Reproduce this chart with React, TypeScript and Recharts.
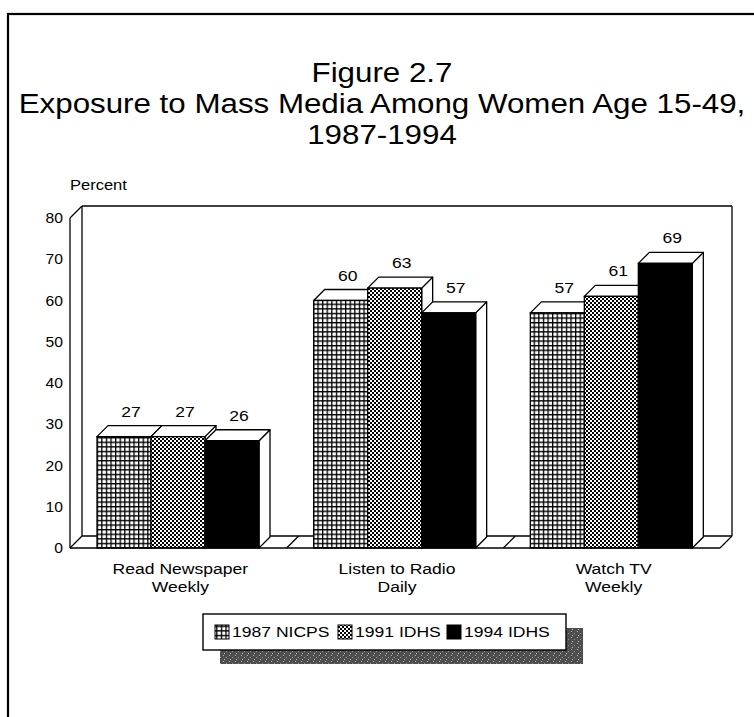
import React from 'react';
import { BarChart, Bar, XAxis, YAxis, Legend, LabelList } from 'recharts';

const categories = ['Read Newspaper Weekly', 'Listen to Radio Daily', 'Watch TV Weekly'];
const categoryLines: Record<string, string[]> = {
  'Read Newspaper Weekly': ['Read Newspaper', 'Weekly'],
  'Listen to Radio Daily': ['Listen to Radio', 'Daily'],
  'Watch TV Weekly': ['Watch TV', 'Weekly'],
};
const nicps1987 = [27, 60, 57];
const idhs1991 = [27, 63, 61];
const idhs1994 = [26, 57, 69];
const seriesNames = ['1987 NICPS', '1991 IDHS', '1994 IDHS'];
const seriesKeys = ['s1987', 's1991', 's1994'];
const seriesFills = ['url(#pGrid)', 'url(#pCheck)', '#000'];
const yTicks = [0, 10, 20, 30, 40, 50, 60, 70, 80];
const titleLines = ['Figure 2.7', 'Exposure to Mass Media Among Women Age 15-49,', '1987-1994'];
const yLabel = 'Percent';

const data = categories.map((c, i) => ({
  name: c,
  s1987: nicps1987[i],
  s1991: idhs1991[i],
  s1994: idhs1994[i],
}));

const W = 754;
const H = 717;
const MARGIN = { top: 218, right: 34, left: 30, bottom: 129 };
const YAXIS_W = 40;
const XAXIS_H = 40;
const PL = MARGIN.left + YAXIS_W;
const PR = W - MARGIN.right;
const PT = MARGIN.top;
const PB = H - MARGIN.bottom - XAXIS_H;
const DX = 12;
const DY = 12;
const BD = 11;
const FONT = '"Liberation Sans", Arial, Helvetica, sans-serif';
const SX = 1.17;

const SText = ({ x, y, size, anchor = 'middle', sx = SX, children }: any) => (
  <text
    transform={`translate(${x},${y}) scale(${sx},1)`}
    textAnchor={anchor}
    fontFamily={FONT}
    fontSize={size}
    fill="#000"
  >
    {children}
  </text>
);

const Bar3D = (props: any) => {
  const { x, y, width: w, height: h, fill } = props;
  if (w == null || h == null) return null;
  const side = `${x + w},${y} ${x + w + BD},${y - BD} ${x + w + BD},${y + h - BD} ${x + w},${y + h}`;
  const top = `${x},${y} ${x + BD},${y - BD} ${x + w + BD},${y - BD} ${x + w},${y}`;
  return (
    <g>
      <polygon points={side} fill="#fff" stroke="#000" strokeWidth={1.3} strokeLinejoin="round" />
      <polygon points={top} fill="#fff" stroke="#000" strokeWidth={1.3} strokeLinejoin="round" />
      <rect x={x} y={y} width={w} height={h} fill={fill} stroke="#000" strokeWidth={1.3} />
    </g>
  );
};

const ValueLabel = (props: any) => {
  const vb = props.viewBox || {};
  const x = props.x ?? vb.x;
  const y = props.y ?? vb.y;
  const w = props.width ?? vb.width;
  if (x == null || y == null) return null;
  return (
    <SText x={x + w / 2 + 7} y={y - 20} size={15}>
      {props.value}
    </SText>
  );
};

const YTick = (props: any) => {
  const { x, y, payload } = props;
  return (
    <SText x={x} y={y + 5} size={14} anchor="end" sx={1.12}>
      {payload.value}
    </SText>
  );
};

const XTick = (props: any) => {
  const { x, y, payload } = props;
  const lines = categoryLines[payload.value] || [payload.value];
  return (
    <g>
      {lines.map((l, i) => (
        <SText key={i} x={x + 2} y={y + 24 + i * 18} size={15}>
          {l}
        </SText>
      ))}
    </g>
  );
};

const LegendContent = () => {
  const bx = 203;
  const by = 614;
  const bw = 363;
  const bh = 36;
  const items = [
    { sw: 215, tx: 232 },
    { sw: 338, tx: 355 },
    { sw: 447, tx: 464 },
  ];
  return (
    <svg width={W} height={H} style={{ position: 'absolute', left: 0, top: 0 }}>
      <rect x={bx + 17} y={by + 14} width={bw} height={bh} fill="url(#pShadow)" />
      <rect x={bx} y={by} width={bw} height={bh} fill="#fff" stroke="#000" strokeWidth={1.4} />
      {seriesNames.map((n, i) => (
        <g key={n}>
          <rect x={items[i].sw} y={625} width={14} height={14} fill={seriesFills[i]} stroke="#000" strokeWidth={1} />
          <SText x={items[i].tx} y={637} size={15} anchor="start">
            {n}
          </SText>
        </g>
      ))}
    </svg>
  );
};

const Background = () => {
  const n = categories.length;
  const band = (PR - PL) / n;
  const dividers = [];
  for (let i = 1; i < n; i++) dividers.push(PL + band * i);
  return (
    <svg width={W} height={H} style={{ position: 'absolute', left: 0, top: 0 }}>
      <defs>
        <pattern id="pGrid" width="4.6" height="4.6" patternUnits="userSpaceOnUse">
          <rect width="4.6" height="4.6" fill="#fff" />
          <path d="M0,0.65 H4.6 M0.65,0 V4.6" stroke="#000" strokeWidth="1.3" />
        </pattern>
        <pattern id="pCheck" width="4" height="4" patternUnits="userSpaceOnUse">
          <rect width="4" height="4" fill="#fff" />
          <rect x="0" y="0" width="2" height="2" fill="#000" />
          <rect x="2" y="2" width="2" height="2" fill="#000" />
        </pattern>
        <pattern id="pShadow" width="6" height="6" patternUnits="userSpaceOnUse">
          <rect width="6" height="6" fill="#4e4e4e" />
          <rect x="1" y="1" width="1" height="1" fill="#b0b0b0" />
          <rect x="4" y="3" width="1" height="1" fill="#9a9a9a" />
          <rect x="2" y="5" width="1" height="1" fill="#c0c0c0" />
        </pattern>
      </defs>
      <rect x={8} y={14} width={800} height={800} fill="none" stroke="#000" strokeWidth={2.2} />
      {titleLines.map((t, i) => (
        <SText key={i} x={382} y={82 + i * 31} size={27} sx={1.16}>
          {t}
        </SText>
      ))}
      <SText x={70} y={190} size={14} anchor="start" sx={1.18}>
        {yLabel}
      </SText>
      <g fill="none" stroke="#000" strokeWidth={1.3}>
        <line x1={PL} y1={PT} x2={PL + DX} y2={PT - DY} />
        <line x1={PL + DX} y1={PT - DY} x2={PR + DX} y2={PT - DY} />
        <line x1={PL + DX} y1={PT - DY} x2={PL + DX} y2={PB - DY} />
        <line x1={PR + DX} y1={PT - DY} x2={PR + DX} y2={PB - DY} />
        <line x1={PL + DX} y1={PB - DY} x2={PR + DX} y2={PB - DY} />
        <line x1={PL} y1={PB} x2={PL + DX} y2={PB - DY} />
        <line x1={PR} y1={PB} x2={PR + DX} y2={PB - DY} />
        {dividers.map((d, i) => (
          <line key={i} x1={d} y1={PB} x2={d + DX} y2={PB - DY} />
        ))}
      </g>
    </svg>
  );
};

export default function App() {
  return (
    <div style={{ position: 'absolute', left: 0, top: 0, width: W, height: H, background: '#fff' }}>
      <Background />
      <div style={{ position: 'absolute', left: 0, top: 0 }}>
        <BarChart width={W} height={H} data={data} margin={MARGIN} barGap={0} barSize={54}>
          <XAxis
            dataKey="name"
            height={XAXIS_H}
            axisLine={{ stroke: '#000', strokeWidth: 1.3 }}
            tickLine={false}
            tickSize={0}
            tick={<XTick />}
            interval={0}
          />
          <YAxis
            width={YAXIS_W}
            domain={[0, 80]}
            ticks={yTicks}
            axisLine={{ stroke: '#000', strokeWidth: 1.3 }}
            tickLine={false}
            tickSize={0}
            tickMargin={7}
            tick={<YTick />}
            interval={0}
          />
          <Legend verticalAlign="middle" layout="horizontal" content={<LegendContent />} wrapperStyle={{ left: 0, top: 0, width: W, height: H, pointerEvents: 'none' }} />
          {seriesKeys.map((k, i) => (
            <Bar key={k} dataKey={k} name={seriesNames[i]} fill={seriesFills[i]} shape={<Bar3D />} isAnimationActive={false}>
              <LabelList dataKey={k} content={<ValueLabel />} />
            </Bar>
          ))}
        </BarChart>
      </div>
    </div>
  );
}
